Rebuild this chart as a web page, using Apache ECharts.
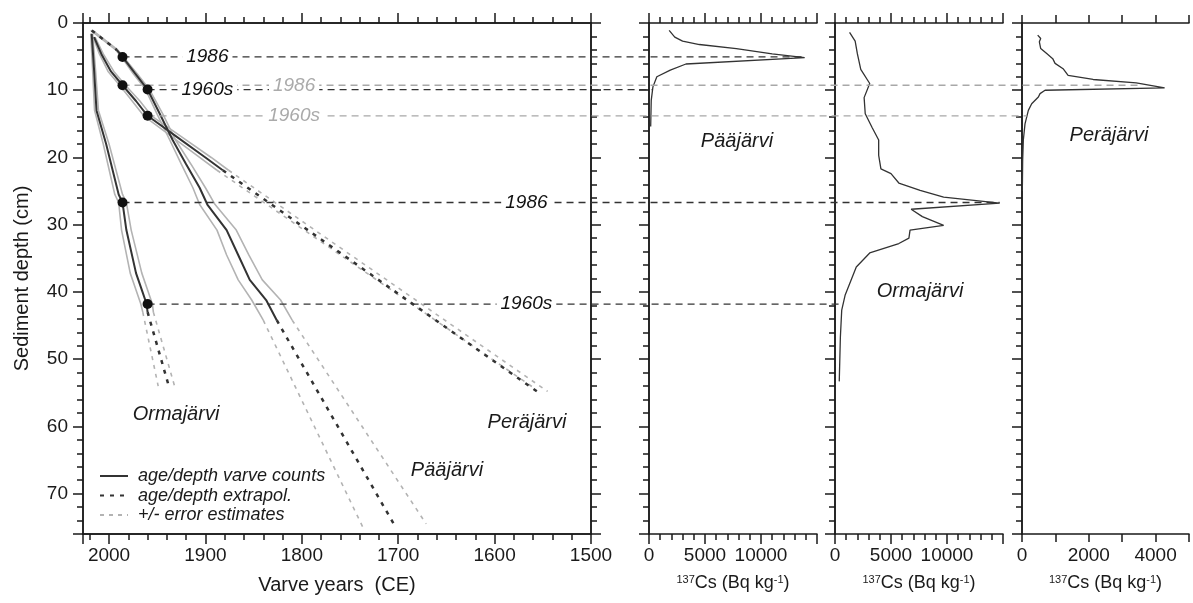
<!DOCTYPE html>
<html>
<head>
<meta charset="utf-8">
<script src="https://cdn.jsdelivr.net/npm/echarts@6/dist/echarts.min.js"></script>
<style>
html, body { margin: 0; padding: 0; background: #fff; }
#chart { width: 1193px; height: 603px; }
</style>
</head>
<body>
<div id="chart"></div>
<script>
// ---- age/depth models: x = varve year (CE), y = sediment depth (cm) ----
// Ormajärvi
let ormYears = [2018, 2015.5, 2013, 2003, 1990, 1986, 1982, 1972, 1966, 1961, 1960];
let ormDepths = [1.6, 7, 13, 18, 25.5, 26.7, 30.8, 37.2, 39.7, 41.8, 43];
let ormYoung = [2019, 2017, 2015, 2006, 1994, 1990, 1987, 1978, 1972, 1967, 1965];
let ormOld = [2017, 2014, 2011, 2000, 1986, 1982, 1977, 1966, 1960, 1955, 1954];
let ormExtYears = [1960, 1938];
let ormExtDepths = [43, 54];
let ormExtYoung = [1965, 1949];
let ormExtOld = [1954, 1932];

// Pääjärvi
let pajTopYears = [2018, 1992];
let pajTopDepths = [1.1, 4.0];
let pajYears = [1992, 1986, 1973, 1960, 1947, 1934, 1920, 1906, 1898, 1878, 1866, 1854, 1837, 1826];
let pajDepths = [4.0, 5.05, 7.5, 9.9, 13.6, 17.4, 21.0, 24.5, 27.0, 30.8, 34.5, 38.2, 41.2, 44.2];
let pajErrDepths = [1.1, 4.0, 5.05, 7.5, 9.9, 13.6, 17.4, 21.0, 24.5, 27.0, 30.8, 34.5, 38.2, 41.2, 44.2];
let pajYoung = [2019, 1993, 1987, 1975, 1962, 1950, 1937, 1925, 1913, 1906, 1888, 1878, 1866, 1852, 1840];
let pajOld = [2017, 1991, 1985, 1971, 1958, 1944, 1931, 1915, 1900, 1890, 1868, 1855, 1841, 1822, 1810];
let pajExtYears = [1826, 1703];
let pajExtDepths = [44.2, 74.9];
let pajExtYoung = [1840, 1737];
let pajExtYoungDepths = [44.2, 74.9];
let pajExtOld = [1810, 1671];
let pajExtOldDepths = [44.2, 74.5];

// Peräjärvi
let perYears = [2015.5, 2008, 1998, 1986, 1972, 1960, 1930, 1900, 1882];
let perDepths = [2.1, 4.6, 7.2, 9.26, 11.6, 13.8, 16.9, 20.0, 21.9];
let perYoung = [2016.5, 2010, 2001, 1989, 1976, 1964, 1935, 1906, 1888];
let perOld = [2014.5, 2006, 1995, 1983, 1968, 1956, 1925, 1894, 1876];
let perExtYears = [1882, 1552];
let perExtDepths = [21.9, 55.2];
let perExtYoung = [1888, 1560];
let perExtYoungDepths = [21.9, 54.2];
let perExtOld = [1876, 1545];
let perExtOldDepths = [21.9, 54.8];

// ---- 137Cs profiles: x = Bq/kg, y = depth (cm) ----
let pajCsDepth = [1.1, 2.1, 2.7, 3.2, 3.8, 4.6, 5.15, 6.1, 7.0, 8.0, 9.5, 11.5, 15.4];
let pajCs = [1800, 2300, 3000, 4500, 7800, 11000, 13900, 3300, 1900, 700, 350, 200, 150];

let ormCsDepth = [1.4, 2.7, 4.6, 6.9, 9.0, 11.1, 13.5, 15.5, 17.4, 19.7, 21.7, 22.4, 23.8, 24.9, 25.9, 26.8, 27.7, 28.8, 30.1, 30.8, 32.0, 32.8, 34.2, 36.3, 40.5, 42.7, 46.7, 53.3];
let ormCs = [1300, 1800, 2000, 2300, 3100, 2600, 2700, 3300, 3900, 3900, 4100, 5000, 5700, 7600, 9700, 14700, 6800, 7800, 9700, 6700, 6600, 5700, 3100, 1900, 900, 600, 480, 380];

let perCsDepth = [1.8, 2.3, 2.8, 3.8, 4.55, 5.3, 6.0, 6.8, 7.8, 8.4, 8.9, 9.65, 10.0, 10.5, 11.0, 12.0, 13.0, 15.0, 17.4, 20.4, 25.0];
let perCs = [470, 560, 520, 560, 740, 920, 990, 1230, 1380, 2130, 3420, 4270, 690, 540, 490, 290, 190, 90, 40, 20, 10];

// ---- dated horizons (dots + dashed lines) ----
let refDepth = [5.05, 9.9, 9.26, 13.8, 26.7, 41.8];
let refYear = [1986, 1960, 1986, 1960, 1986, 1960];
let refText = ['1986', '1960s', '1986', '1960s', '1986', '1960s'];
let refGray = [false, false, true, true, false, false];
let refToPanel = [1, 1, 3, 3, 2, 2];
let refToValue = [13900, 330, 3550, 150, 14700, 600];
let refLabelYear = [1898, 1898, 1808, 1808, 1567, 1567];

const FONT = '"Liberation Sans", Arial, Helvetica, sans-serif';
const INK = '#1a1a1a';
const DARK = '#333333';
const GRAY = '#b3b3b3';
const axLine = { color: INK, width: 1.5 };

function pairs(xs, ys) { return xs.map((x, i) => [x, ys[i]]); }

function valAxis(o) {
    return Object.assign({
        type: 'value',
        splitLine: { show: false },
        axisLine: { show: true, onZero: false, lineStyle: axLine },
        axisTick: { show: true, length: 6, lineStyle: axLine },
        axisLabel: { show: false },
        minorTick: { show: false }
    }, o);
}

let tickFont = { fontSize: 19, color: INK, fontFamily: FONT };
let csName = '{sup|137}Cs (Bq kg{sup|-1})';
let csNameStyle = {
    fontSize: 18, color: INK, fontFamily: FONT,
    rich: { sup: { fontSize: 11, verticalAlign: 'top', color: INK, fontFamily: FONT, padding: [0, 0, 6, 0] } }
};

let grids = [
    { left: 83, top: 23, width: 508, height: 511 },
    { left: 649, top: 23, width: 168, height: 511 },
    { left: 835, top: 23, width: 168, height: 511 },
    { left: 1022, top: 23, width: 167, height: 511 },
    { left: 0, top: 23, width: 1193, height: 511 }
];

let yearAx = { gridIndex: 0, min: 1500, max: 2027, inverse: true };
let xAxes = [
    valAxis(Object.assign({}, yearAx, {
        position: 'bottom', interval: 100,
        axisTick: { length: 10, lineStyle: axLine },
        axisLabel: Object.assign({ show: true, margin: 12, formatter: v => v % 100 === 0 ? String(v) : '' }, tickFont),
        name: 'Varve years  (CE)', nameLocation: 'middle', nameGap: 41,
        nameTextStyle: { fontSize: 20, color: INK, fontFamily: FONT }
    })),
    valAxis(Object.assign({}, yearAx, { position: 'bottom', interval: 20 })),
    valAxis(Object.assign({}, yearAx, { position: 'top', interval: 100, axisTick: { length: 10, lineStyle: axLine } })),
    valAxis(Object.assign({}, yearAx, { position: 'top', interval: 20 }))
];

function csXAxes(grid, max, interval, minor, labelFn) {
    let tick = { length: minor ? 10 : 8, lineStyle: axLine };
    let mt = minor ? { show: true, splitNumber: 5, length: 6, lineStyle: axLine } : { show: false };
    return [
        valAxis({
            gridIndex: grid, position: 'bottom', min: 0, max: max, interval: interval,
            axisTick: tick, minorTick: mt,
            axisLabel: Object.assign({ show: true, margin: 12, formatter: labelFn }, tickFont),
            name: csName, nameLocation: 'middle', nameGap: 40, nameTextStyle: csNameStyle
        }),
        valAxis({ gridIndex: grid, position: 'top', min: 0, max: max, interval: interval, axisTick: tick, minorTick: mt })
    ];
}
xAxes = xAxes
    .concat(csXAxes(1, 15000, 5000, true, v => v < 15000 ? String(v) : ''))
    .concat(csXAxes(2, 15000, 5000, true, v => v < 15000 ? String(v) : ''))
    .concat(csXAxes(3, 5000, 1000, false, v => v % 2000 === 0 ? String(v) : ''));
xAxes.push({ gridIndex: 4, type: 'value', min: 0, max: 1193, show: false });

let depthAx = { min: 0, max: 76, inverse: true };
let yAxes = [
    valAxis(Object.assign({}, depthAx, {
        gridIndex: 0, position: 'left', interval: 10,
        axisTick: { length: 10, lineStyle: axLine },
        axisLabel: Object.assign({ show: true, margin: 15, formatter: v => v % 10 === 0 ? String(v) : '' }, tickFont),
        name: 'Sediment depth (cm)', nameLocation: 'middle', nameGap: 51,
        nameTextStyle: { fontSize: 20, color: INK, fontFamily: FONT }
    })),
    valAxis(Object.assign({}, depthAx, { gridIndex: 0, position: 'left', interval: 2 })),
    valAxis(Object.assign({}, depthAx, { gridIndex: 0, position: 'right', interval: 10, axisTick: { length: 10, lineStyle: axLine } })),
    valAxis(Object.assign({}, depthAx, { gridIndex: 0, position: 'right', interval: 2 }))
];
[1, 2, 3].forEach(g => {
    yAxes.push(valAxis(Object.assign({}, depthAx, { gridIndex: g, position: 'left', interval: 10, axisTick: { length: 10, lineStyle: axLine } })));
    yAxes.push(valAxis(Object.assign({}, depthAx, { gridIndex: g, position: 'left', interval: 2 })));
});
yAxes.push(Object.assign({}, depthAx, { gridIndex: 4, type: 'value', show: false }));

// axis index of each Cs panel (x and y share the same index)
let panelAxis = { 1: 4, 2: 6, 3: 8 };

function mainLine(name, data, color, width, dash, z) {
    return {
        type: 'line', name: name, xAxisIndex: 0, yAxisIndex: 0, data: data,
        symbol: 'none', z: z, silent: true, animation: false,
        lineStyle: { color: color, width: width, type: dash || 'solid' },
        itemStyle: { color: color }
    };
}

let series = [
    // error estimates (gray)
    mainLine('+/- error estimates', pairs(ormExtYoung, ormExtDepths), GRAY, 1.6, [4, 5], 2),
    mainLine('+/- error estimates', pairs(ormExtOld, ormExtDepths), GRAY, 1.6, [4, 5], 2),
    mainLine('+/- error estimates', pairs(pajExtYoung, pajExtYoungDepths), GRAY, 1.6, [4, 5], 2),
    mainLine('+/- error estimates', pairs(pajExtOld, pajExtOldDepths), GRAY, 1.6, [4, 5], 2),
    mainLine('+/- error estimates', pairs(perExtYoung, perExtYoungDepths), GRAY, 1.6, [4, 5], 2),
    mainLine('+/- error estimates', pairs(perExtOld, perExtOldDepths), GRAY, 1.6, [4, 5], 2),
    mainLine('err', pairs(ormYoung, ormDepths), GRAY, 1.6, null, 2),
    mainLine('err', pairs(ormOld, ormDepths), GRAY, 1.6, null, 2),
    mainLine('err', pairs(pajYoung, pajErrDepths), GRAY, 1.6, null, 2),
    mainLine('err', pairs(pajOld, pajErrDepths), GRAY, 1.6, null, 2),
    mainLine('err', pairs(perYoung, perDepths), GRAY, 1.6, null, 2),
    mainLine('err', pairs(perOld, perDepths), GRAY, 1.6, null, 2),
    // varve counts
    mainLine('age/depth varve counts', pairs(ormYears, ormDepths), DARK, 2, null, 3),
    mainLine('age/depth varve counts', pairs(pajYears, pajDepths), DARK, 2, null, 3),
    mainLine('age/depth varve counts', pairs(perYears, perDepths), DARK, 2, null, 3),
    // extrapolations
    mainLine('age/depth extrapol.', pairs(ormExtYears, ormExtDepths), DARK, 2.5, [4, 6], 3),
    mainLine('age/depth extrapol.', pairs(pajExtYears, pajExtDepths), DARK, 2.5, [4, 6], 3),
    mainLine('age/depth extrapol.', pairs(perExtYears, perExtDepths), DARK, 2.5, [4, 6], 3),
    mainLine('age/depth extrapol.', pairs(pajTopYears, pajTopDepths), DARK, 2.5, [4, 6], 3),
    // dated horizons
    {
        type: 'scatter', xAxisIndex: 0, yAxisIndex: 0, data: pairs(refYear, refDepth),
        symbol: 'circle', symbolSize: 10, itemStyle: { color: '#111', opacity: 1 }, z: 5, silent: true, animation: false
    },
    {
        type: 'scatter', xAxisIndex: 0, yAxisIndex: 0, symbolSize: 0, z: 10, silent: true, animation: false,
        itemStyle: { opacity: 1 },
        data: refDepth.map((d, i) => ({
            value: [refLabelYear[i], d],
            label: { color: refGray[i] ? '#aaaaaa' : '#111' }
        })),
        label: {
            show: true, position: 'inside', formatter: p => refText[p.dataIndex],
            fontSize: 19, fontStyle: 'italic', fontFamily: FONT,
            backgroundColor: '#fff', padding: [0, 4]
        }
    }
];

// 137Cs profiles
[[pajCs, pajCsDepth, 1], [ormCs, ormCsDepth, 2], [perCs, perCsDepth, 3]].forEach(c => {
    let ax = panelAxis[c[2]];
    series.push({
        type: 'line', xAxisIndex: ax, yAxisIndex: ax, data: pairs(c[0], c[1]),
        symbol: 'none', silent: true, animation: false, z: 3,
        lineStyle: { color: DARK, width: 1.3 }
    });
});

let lakeLabels = [
    ['Ormajärvi', 176, 414], ['Peräjärvi', 527, 422], ['Pääjärvi', 447, 470],
    ['Pääjärvi', 737, 141], ['Ormajärvi', 920, 291], ['Peräjärvi', 1109, 135]
];

let option = {
    backgroundColor: '#fff',
    animation: false,
    grid: grids,
    xAxis: xAxes,
    yAxis: yAxes,
    legend: {
        data: ['age/depth varve counts', 'age/depth extrapol.', '+/- error estimates'],
        orient: 'vertical', left: 94, top: 462,
        itemWidth: 28, itemHeight: 14, itemGap: 1.5,
        selectedMode: false,
        itemStyle: { opacity: 0 },
        textStyle: { fontSize: 18, fontStyle: 'italic', color: INK, fontFamily: FONT, padding: [0, 0, 0, 5] }
    },
    graphic: lakeLabels.map(l => ({
        type: 'text', x: l[1], y: l[2], silent: true,
        style: { text: l[0], font: 'italic 20px ' + FONT, fill: INK, align: 'center', verticalAlign: 'middle' }
    })),
    series: series
};

let chart = echarts.init(document.getElementById('chart'), null, { renderer: 'canvas' });
chart.setOption(option);

// horizon lines run from the dated dot across to the Cs profile, via the library's scales
refDepth.forEach((d, i) => {
    let a = chart.convertToPixel({ xAxisIndex: 0, yAxisIndex: 0 }, [refYear[i], d]);
    let ax = panelAxis[refToPanel[i]];
    let b = chart.convertToPixel({ xAxisIndex: ax, yAxisIndex: ax }, [refToValue[i], d]);
    series.push({
        type: 'line', xAxisIndex: 10, yAxisIndex: 10, data: [[a[0], d], [b[0], d]],
        symbol: 'none', silent: true, animation: false, z: 4,
        lineStyle: { color: refGray[i] ? '#a8a8a8' : DARK, width: 1.3, type: [7, 5] }
    });
});
chart.setOption(option);
</script>
</body>
</html>
